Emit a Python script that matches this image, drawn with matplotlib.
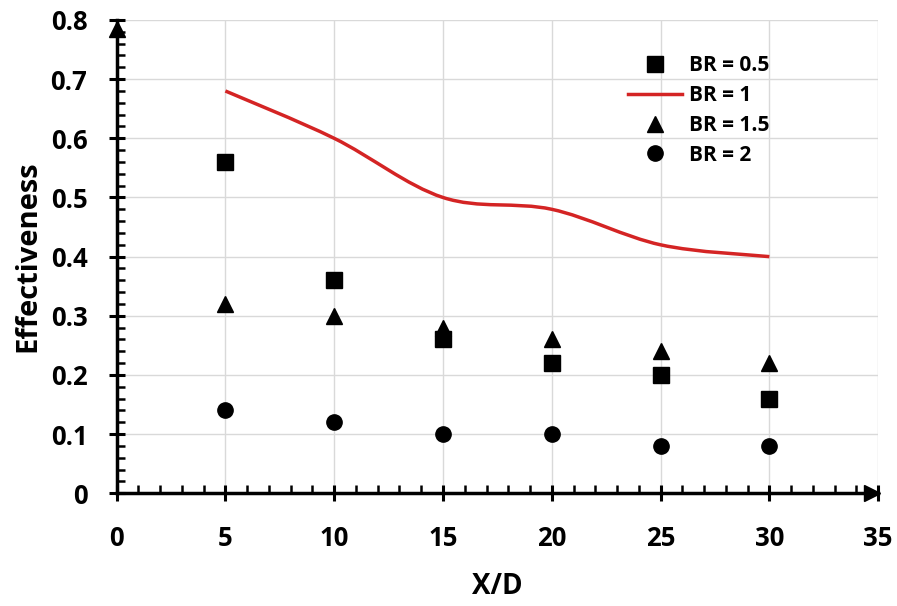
import numpy as np
import matplotlib.pyplot as plt
from matplotlib.path import Path
from matplotlib.patches import PathPatch
from matplotlib.lines import Line2D
from matplotlib.ticker import MultipleLocator

plt.rcParams['font.family'] = ['Open Sans', 'DejaVu Sans']
plt.rcParams['font.weight'] = 'bold'

x_d = [5, 10, 15, 20, 25, 30]
br_05 = [0.56, 0.36, 0.26, 0.22, 0.20, 0.16]
br_1 = [0.68, 0.60, 0.50, 0.48, 0.42, 0.40]
br_15 = [0.32, 0.30, 0.28, 0.26, 0.24, 0.22]
br_2 = [0.14, 0.12, 0.10, 0.10, 0.08, 0.08]


def smooth_path(xs, ys):
    # Excel-like smoothed line: Catmull-Rom converted to cubic Bezier segments
    pts = np.column_stack([xs, ys]).astype(float)
    verts = [pts[0]]
    codes = [Path.MOVETO]
    n = len(pts)
    for i in range(n - 1):
        p0 = pts[max(i - 1, 0)]
        p1 = pts[i]
        p2 = pts[i + 1]
        p3 = pts[min(i + 2, n - 1)]
        c1 = p1 + (p2 - p0) / 6.0
        c2 = p2 - (p3 - p1) / 6.0
        verts += [c1, c2, p2]
        codes += [Path.CURVE4] * 3
    return Path(verts, codes)


fig = plt.figure(figsize=(8.97, 6.06), dpi=100)
ax = fig.add_axes([0.130, 0.186, 0.849, 0.781])

red = '#d42424'
ms = 11
ax.add_patch(PathPatch(smooth_path(x_d, br_1), fill=False, edgecolor=red, lw=2.5, zorder=3))
ax.plot(x_d, br_05, 's', color='black', ms=ms, zorder=4)
ax.plot(x_d, br_15, '^', color='black', ms=ms, zorder=4)
ax.plot(x_d, br_2, 'o', color='black', ms=ms, zorder=4)

ax.set_xlim(0, 35)
ax.set_ylim(0, 0.8)
ax.xaxis.set_major_locator(MultipleLocator(5))
ax.xaxis.set_minor_locator(MultipleLocator(1))
ax.yaxis.set_minor_locator(MultipleLocator(0.02))
ax.set_yticks(np.arange(0, 0.81, 0.1))
ax.set_yticklabels(['0'] + ['%.1f' % v for v in np.arange(0.1, 0.81, 0.1)])
for lab in ax.get_xticklabels() + ax.get_yticklabels():
    lab.set_fontweight('bold')

ax.grid(True, which='major', color='#d9d9d9', lw=1)
ax.set_axisbelow(True)

for s in ['top', 'right']:
    ax.spines[s].set_visible(False)
for s in ['left', 'bottom']:
    ax.spines[s].set_linewidth(2.5)
    ax.spines[s].set_color('black')

ax.tick_params(which='major', direction='inout', length=12, width=2.2,
               labelsize=18.5, colors='black')
ax.tick_params(axis='x', which='major', pad=17)
ax.tick_params(axis='y', which='major', pad=15)
ax.tick_params(which='minor', direction='in', length=6, width=1.8, colors='black')

# axis arrows
ax.plot(0, 0.785, '^', color='black', ms=11, clip_on=False, zorder=5)
ax.plot(34.7, 0, '>', color='black', ms=11, clip_on=False, zorder=5)

ax.set_xlabel('X/D', fontsize=20, fontweight='bold', labelpad=14)
ax.set_ylabel('Effectiveness', fontsize=21, fontweight='bold', labelpad=6)

handles = [
    Line2D([], [], marker='s', ls='none', color='black', ms=ms),
    Line2D([], [], color=red, lw=2.5),
    Line2D([], [], marker='^', ls='none', color='black', ms=ms),
    Line2D([], [], marker='o', ls='none', color='black', ms=ms),
]
labels = ['BR = 0.5', 'BR = 1', 'BR = 1.5', 'BR = 2']
ax.legend(handles, labels, loc='upper left', bbox_to_anchor=(0.671, 0.925),
          frameon=False, prop={'size': 15, 'weight': 'bold'},
          borderpad=0, borderaxespad=0,
          handlelength=2.6, handletextpad=0.35, labelspacing=0.42)

fig.savefig('out.png', dpi=100)
